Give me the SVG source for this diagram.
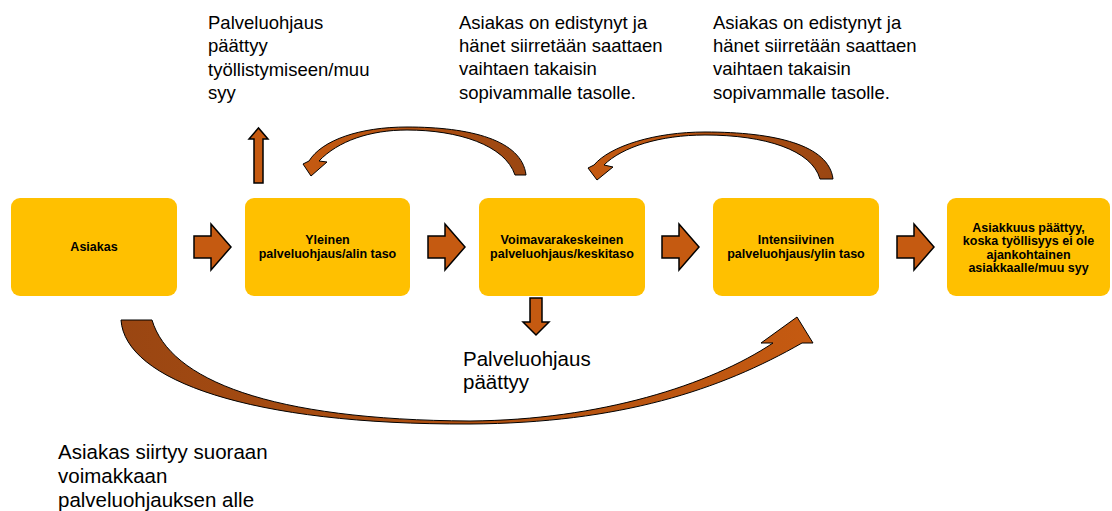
<svg xmlns="http://www.w3.org/2000/svg" width="1112" height="511" viewBox="0 0 1112 511">
  <style>
    .box { fill: #FFC000; }
    .boxtxt { font-family: "Liberation Sans", Arial, sans-serif; font-weight: bold; font-size: 12.5px; fill: #000; text-anchor: middle; }
    .note { font-family: "Liberation Sans", Arial, sans-serif; font-size: 18.5px; fill: #000; }
    .note-lg { font-family: "Liberation Sans", Arial, sans-serif; font-size: 20.5px; fill: #000; }
    .blk { fill: #C55A11; stroke: #000; stroke-width: 1.5; stroke-linejoin: miter; }
    .curve { stroke: #000; stroke-width: 1; stroke-linejoin: miter; }
  </style>
  <defs>
    <linearGradient id="gradBottom" x1="121" y1="0" x2="813" y2="0" gradientUnits="userSpaceOnUse">
      <stop offset="0" stop-color="#9A4612"/>
      <stop offset="0.5" stop-color="#B05010"/>
      <stop offset="1" stop-color="#C55A11"/>
    </linearGradient>
    <linearGradient id="gradTopA" x1="526" y1="0" x2="303" y2="0" gradientUnits="userSpaceOnUse">
      <stop offset="0" stop-color="#9A4612"/>
      <stop offset="1" stop-color="#C55A11"/>
    </linearGradient>
    <linearGradient id="gradTopB" x1="833" y1="0" x2="588" y2="0" gradientUnits="userSpaceOnUse">
      <stop offset="0" stop-color="#9A4612"/>
      <stop offset="1" stop-color="#C55A11"/>
    </linearGradient>
  </defs>

  <rect width="1112" height="511" fill="#fff"/>

  <!-- service levels -->
  <g id="node-asiakas">
    <rect class="box" x="11" y="198" width="166" height="98" rx="9"/>
    <text class="boxtxt" x="94" y="251">Asiakas</text>
  </g>
  <g id="node-yleinen">
    <rect class="box" x="245" y="198" width="165" height="98" rx="9"/>
    <text class="boxtxt" x="327.5" y="244">Yleinen</text>
    <text class="boxtxt" x="327.5" y="257.5">palveluohjaus/alin taso</text>
  </g>
  <g id="node-voimavara">
    <rect class="box" x="479" y="198" width="166" height="98" rx="9"/>
    <text class="boxtxt" x="562" y="244">Voimavarakeskeinen</text>
    <text class="boxtxt" x="562" y="257.5">palveluohjaus/keskitaso</text>
  </g>
  <g id="node-intensiivinen">
    <rect class="box" x="713" y="198" width="166" height="98" rx="9"/>
    <text class="boxtxt" x="796" y="244">Intensiivinen</text>
    <text class="boxtxt" x="796" y="257.5">palveluohjaus/ylin taso</text>
  </g>
  <g id="node-asiakkuus">
    <rect class="box" x="947" y="198" width="163" height="98" rx="9"/>
    <text class="boxtxt" x="1028.5" y="231.5">Asiakkuus päättyy,</text>
    <text class="boxtxt" x="1028.5" y="245">koska työllisyys ei ole</text>
    <text class="boxtxt" x="1028.5" y="258.5">ajankohtainen</text>
    <text class="boxtxt" x="1028.5" y="272">asiakkaalle/muu syy</text>
  </g>

  <!-- connectors -->
  <g id="connectors">
    <!-- straight block arrows between levels -->
    <path class="blk" d="M194,236 H211 V224 L231,247 L211,270 V258 H194 Z"/>
    <path class="blk" d="M428,236 H445 V224 L465,247 L445,270 V258 H428 Z"/>
    <path class="blk" d="M662,236 H679 V224 L699,247 L679,270 V258 H662 Z"/>
    <path class="blk" d="M897,236 H914 V224 L934,247 L914,270 V258 H897 Z"/>
    <!-- exit upward from the general level -->
    <path class="blk" d="M254,183 V139 H249 L258.5,128 L268,139 H263 V183 Z"/>
    <!-- exit downward from the middle level -->
    <path class="blk" d="M530,298 V322 H523 L536,335 L549,322 H542 V298 Z"/>
    <!-- curved return: middle level back to general level -->
    <path class="curve" fill="url(#gradTopA)" d="M526,175 C522,140 470,127 407,127 C360,127 322,140 309,161 L303,164 L311,176 L327,162 L319,161 C338,141 370,130 407,130 C458,130 505,145 515,175 Z"/>
    <!-- curved return: top level back to middle level -->
    <path class="curve" fill="url(#gradTopB)" d="M833,179 C829,145 775,132 705,132 C655,132 610,146 594,165 L588,168 L597,180 L613,167 L604,165 C622,147 660,135 705,135 C765,135 812,150 820,179 Z"/>
    <!-- direct jump: customer straight to top level -->
    <path class="curve" fill="url(#gradBottom)" d="M121,320 L152,320 C170,380 270,420 470,421 C600,420 710,385 773,343 L761,343 L797,317 L813,343 L802,343 C720,390 620,423 470,424 C250,425 125,380 121,320 Z"/>
  </g>

  <!-- notes -->
  <g id="note-exit-top">
    <text class="note" x="208" y="29">Palveluohjaus</text>
    <text class="note" x="208" y="52">päättyy</text>
    <text class="note" x="208" y="75.5">työllistymiseen/muu</text>
    <text class="note" x="208" y="98.5">syy</text>
  </g>
  <g id="note-return-1">
    <text class="note" x="459" y="28.5">Asiakas on edistynyt ja</text>
    <text class="note" x="459" y="52">hänet siirretään saattaen</text>
    <text class="note" x="459" y="75">vaihtaen takaisin</text>
    <text class="note" x="459" y="98.5">sopivammalle tasolle.</text>
  </g>
  <g id="note-return-2">
    <text class="note" x="713" y="28.5">Asiakas on edistynyt ja</text>
    <text class="note" x="713" y="52">hänet siirretään saattaen</text>
    <text class="note" x="713" y="75">vaihtaen takaisin</text>
    <text class="note" x="713" y="98.5">sopivammalle tasolle.</text>
  </g>
  <g id="note-exit-middle">
    <text class="note-lg" x="463" y="366">Palveluohjaus</text>
    <text class="note-lg" x="463" y="389">päättyy</text>
  </g>
  <g id="note-direct">
    <text class="note-lg" x="58" y="459">Asiakas siirtyy suoraan</text>
    <text class="note-lg" x="58" y="483">voimakkaan</text>
    <text class="note-lg" x="58" y="507">palveluohjauksen alle</text>
  </g>
</svg>
